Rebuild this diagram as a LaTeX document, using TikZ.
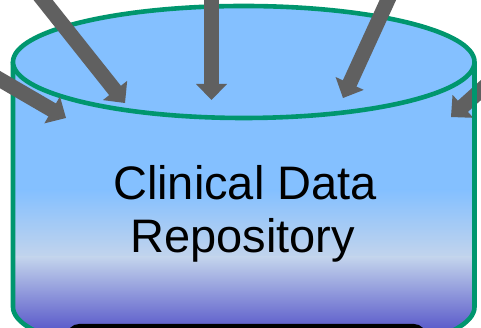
\documentclass[tikz,border=0pt]{standalone}
\usepackage{fontspec}
\setmainfont{Liberation Sans}
\usetikzlibrary{calc}
\definecolor{cylblue}{RGB}{132,192,255}
\definecolor{cylpale}{RGB}{195,212,236}
\definecolor{cylpurple}{RGB}{90,90,202}
\definecolor{cylgreen}{RGB}{0,150,110}
\definecolor{arrowgray}{RGB}{96,96,96}
\tikzset{
  rim/.style={draw=cylgreen, line width=4.6pt},
  shaftline/.style={draw=arrowgray, line width=15pt},
  headfill/.style={fill=arrowgray},
  cdrtext/.style={anchor=base, inner sep=0pt, font=\fontsize{47}{54}\selectfont},
}
\newcommand\bigarrow[2]{%
  \draw[shaftline] (#1) -- ($(#2)!14pt!(#1)$);
  \fill[headfill] ($(#2)!16pt!(#1)!15.5pt!90:(#1)$) -- (#2) -- ($(#2)!16pt!(#1)!15.5pt!-90:(#1)$) -- cycle;
}
\begin{document}
\begin{tikzpicture}[x=1pt,y=1pt]
  \useasboundingbox (0,0) rectangle (481,328);
  \clip (0,0) rectangle (481,328);
  % body fill
  \begin{scope}
    \clip (13,266) -- (13,21) arc[start angle=180,end angle=360,x radius=230.75,y radius=56] -- (474.5,266) -- cycle;
    \fill[cylblue] (0,137) rectangle (481,340);
    \shade[top color=cylblue, bottom color=cylpale] (0,70) rectangle (481,138);
    \shade[top color=cylpale, bottom color=cylpurple] (0,-2) rectangle (481,71);
  \end{scope}
  \draw[rim] (13,266) -- (13,21) arc[start angle=180,end angle=360,x radius=230.75,y radius=56] -- (474.5,266);
  \draw[rim, fill=cylblue] (243.75,266) ellipse[x radius=230.75, y radius=56];
  % arrows
  \coordinate (s1) at (32,342);   \coordinate (t1) at (125,225);
  \coordinate (s2) at (-20,260);  \coordinate (t2) at (66,210);
  \coordinate (s3) at (211.5,348);\coordinate (t3) at (211.5,228);
  \coordinate (s4) at (397,348);  \coordinate (t4) at (343,230);
  \coordinate (s5) at (511,265);  \coordinate (t5) at (451,211);
  \bigarrow{s1}{t1}
  \bigarrow{s2}{t2}
  \bigarrow{s3}{t3}
  \bigarrow{s4}{t4}
  \bigarrow{s5}{t5}
  \draw[rim] (474.5,262) -- (474.5,150);
  % bottom dark shape
  \fill[black, rounded corners=12pt] (67,4) rectangle (426,-40);
  % text
  \node[cdrtext] (l1) at (245,128) {Clinical Data};
  \node[cdrtext] (l2) at (242.5,75) {Repository};
\end{tikzpicture}
\end{document}
